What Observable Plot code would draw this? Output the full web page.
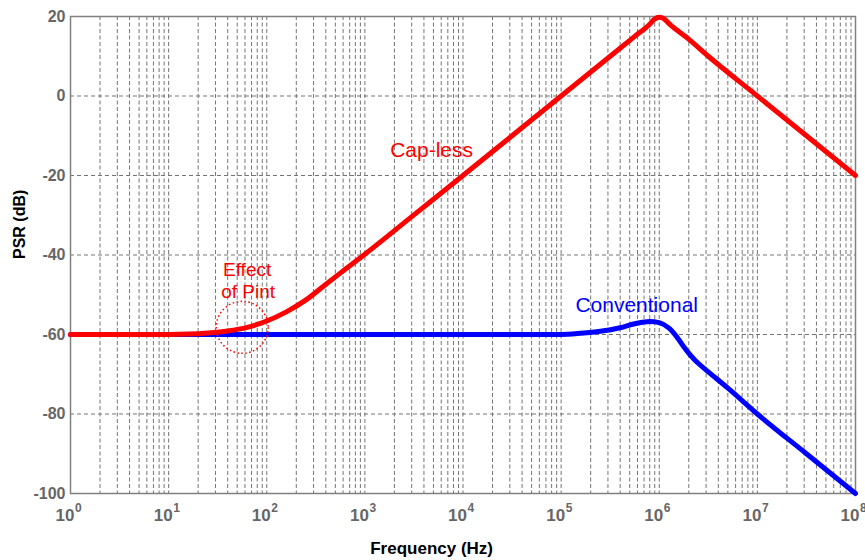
<!DOCTYPE html>
<html>
<head>
<meta charset="utf-8">
<script src="https://cdn.jsdelivr.net/npm/d3@7"></script>
<script src="https://cdn.jsdelivr.net/npm/@observablehq/plot@0.6"></script>
<style>
  html, body { margin: 0; padding: 0; background: #fff; }
  #chart svg { display: block; }
</style>
</head>
<body>
<div id="chart"></div>
<script>
// ---- data (frequency exponents log10(Hz) and PSR in dB) ----
const capLessExp = [0, 1.0, 1.2, 1.4, 1.6, 1.8, 2.0, 2.2, 2.4, 2.6, 2.8, 3.0, 3.5, 4.0, 4.5, 5.0, 5.5, 5.75, 5.9, 5.95, 6.0, 6.05, 6.1, 6.3, 6.5, 7.0, 7.5, 8.0];
const capLessDb  = [-60, -60, -59.9, -59.6, -59.1, -58.2, -56.6, -54.3, -51.3, -47.4, -43.6, -39.8, -29.9, -20.0, -10.0, 0, 10, 15, 18.0, 19.3, 19.8, 19.4, 18.2, 14.3, 10, 0, -10, -20];

const convExp = [0, 1, 2, 3, 4, 5.0, 5.2, 5.4, 5.6, 5.75, 5.9, 6.0, 6.1, 6.2, 6.25, 6.3, 6.35, 6.4, 6.5, 6.7, 7.0, 7.5, 8.0];
const convDb  = [-60, -60, -60, -60, -60, -60, -59.7, -59.2, -58.3, -57.3, -56.7, -57.0, -58.4, -61.3, -63.1, -64.7, -66.1, -67.3, -69.4, -73.5, -80, -90, -100];

const yTicks = [20, 0, -20, -40, -60, -80, -100];
const xDecadeExp = [0, 1, 2, 3, 4, 5, 6, 7, 8];

const labelText = ["Cap-less", "Conventional", "Effect", "of Pint"];
const labelExp  = [3.68, 5.77, 1.80, 1.81];
const labelDb   = [-13.7, -52.7, -45.2, -50.9];
const labelColor = ["red", "blue", "red", "red"];

const circleExp = [1.75];
const circleDb = [-58.2];

// ---- build ----
const capLess = capLessExp.map((e, i) => ({f: 10 ** e, db: capLessDb[i]}));
const conv = convExp.map((e, i) => ({f: 10 ** e, db: convDb[i]}));
const decades = xDecadeExp.map(e => 10 ** e);
const minorTicks = [];
for (let k = 0; k < 8; k++) for (let m = 1; m <= 9; m++) minorTicks.push(m * 10 ** k);
minorTicks.push(1e8);
const labels = labelText.map((t, i) => ({t, f: 10 ** labelExp[i], db: labelDb[i], c: labelColor[i]}));
const circles = circleExp.map((e, i) => ({f: 10 ** e, db: circleDb[i]}));

const tickFont = "'Liberation Sans', Arial, sans-serif";

const chart = Plot.plot({
  width: 865,
  height: 560,
  marginLeft: 70,
  marginRight: 10,
  marginTop: 16,
  marginBottom: 67,
  style: {fontFamily: tickFont, background: "#fff"},
  x: {type: "log", domain: [1, 1e8], axis: null},
  y: {domain: [-100, 20], axis: null},
  marks: [
    Plot.ruleX(minorTicks, {x: d => d, stroke: "#747474", strokeWidth: 1, strokeDasharray: "4,2.5"}),
    Plot.ruleY(yTicks, {y: d => d, stroke: "#747474", strokeWidth: 1, strokeDasharray: "4,3"}),
    Plot.frame({stroke: "#808080", strokeWidth: 1.5}),
    // y tick labels
    Plot.text(yTicks, {y: d => d, frameAnchor: "left", text: d => String(d), textAnchor: "end", dx: -5,
      fontSize: 16, fontWeight: "bold", fill: "#666"}),
    // x tick labels: 10^k
    Plot.text(decades, {x: d => d, frameAnchor: "bottom", text: () => "10", textAnchor: "end", lineAnchor: "bottom",
      dx: 4, dy: 27, fontSize: 17, fontWeight: "bold", fill: "#666"}),
    Plot.text(xDecadeExp, {x: d => 10 ** d, frameAnchor: "bottom", text: d => String(d), textAnchor: "start", lineAnchor: "bottom",
      dx: 4.5, dy: 18, fontSize: 12, fontWeight: "bold", fill: "#666"}),
    // curves
    Plot.line(conv, {x: "f", y: "db", stroke: "#0000ff", strokeWidth: 5, curve: "monotone-x", strokeLinejoin: "round"}),
    Plot.line(capLess, {x: "f", y: "db", stroke: "#ff0000", strokeWidth: 5, curve: "monotone-x", strokeLinejoin: "round"}),
    // annotations
    Plot.dot(circles, {x: "f", y: "db", r: 26, stroke: "#ff0000", strokeWidth: 1.5, strokeDasharray: "1.5,2.5", fill: "none"}),
    Plot.text(labels.slice(0, 2), {x: "f", y: "db", text: "t", fill: "c", fontSize: 21, textAnchor: "middle"}),
    Plot.text(labels.slice(2), {x: "f", y: "db", text: "t", fill: "c", fontSize: 19, textAnchor: "middle", lineAnchor: "bottom"}),
    // axis titles
    Plot.text(["Frequency (Hz)"], {frameAnchor: "bottom", x: 10 ** 3.68, text: d => d, dy: 60, lineAnchor: "bottom",
      fontSize: 17, fontWeight: "bold", fill: "#000"}),
    Plot.text(["PSR (dB)"], {frameAnchor: "left", y: -41, text: d => d, dx: -51, rotate: -90,
      fontSize: 16, fontWeight: "bold", fill: "#000"})
  ]
});
document.getElementById("chart").appendChild(chart);
</script>
</body>
</html>
